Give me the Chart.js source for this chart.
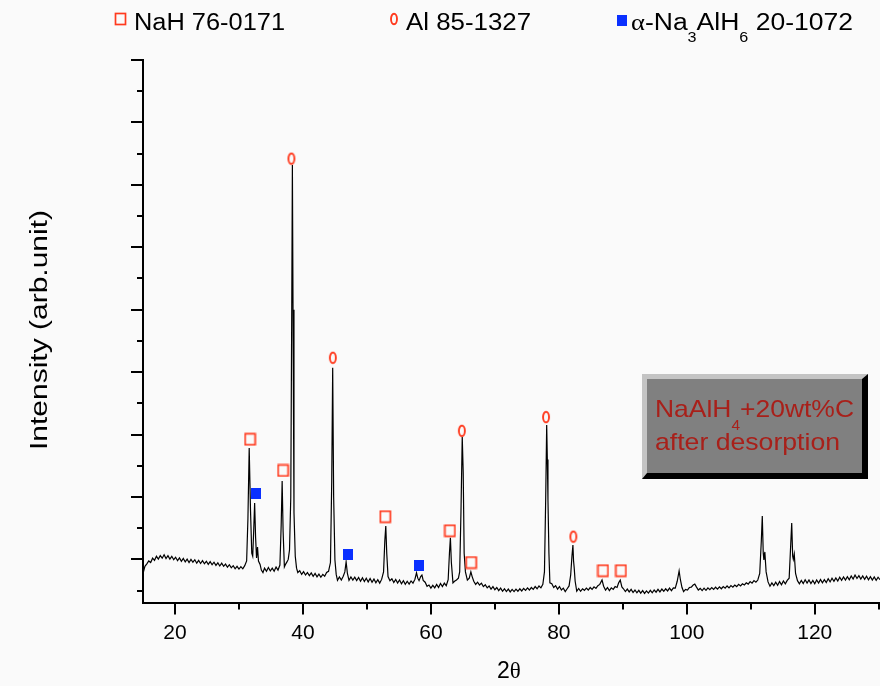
<!DOCTYPE html>
<html><head><meta charset="utf-8">
<script src="https://cdn.jsdelivr.net/npm/chart.js@4.4.1/dist/chart.umd.min.js"></script>
<style>html,body{margin:0;padding:0;background:#fafafa;}canvas{display:block;}</style>
</head><body>
<canvas id="c" width="880" height="686"></canvas>
<script>
// XRD scan: [2theta, intensity (arb. unit)]
const xrdScan = [
[15.0,55],[15.3,78],[15.6,86],[15.9,95],[16.2,90],[16.5,104],[16.8,97],[17.1,110],[17.4,101],[17.7,112],
[18.0,104],[18.3,115],[18.6,103],[18.9,112],[19.2,101],[19.5,110],[19.8,99],[20.1,107],[20.4,96],[20.7,105],
[21.0,94],[21.3,103],[21.6,92],[21.9,101],[22.2,90],[22.5,100],[22.8,91],[23.1,99],[23.4,88],[23.7,97],
[24.0,87],[24.3,96],[24.6,86],[24.9,94],[25.2,84],[25.5,93],[25.8,83],[26.1,91],[26.4,81],[26.7,89],
[27.0,79],[27.3,88],[27.6,78],[27.9,85],[28.2,75],[28.5,83],[28.8,73],[29.1,80],[29.4,70],[29.7,78],
[30.0,69],[30.3,77],[30.6,70],[30.9,80],[31.2,95],[31.4,230],[31.6,457],[31.8,260],[32.0,120],[32.15,110],
[32.3,190],[32.45,281],[32.6,170],[32.75,105],[32.9,140],[33.05,95],[33.3,84],[33.5,66],[33.75,58],[34.0,72],
[34.3,62],[34.6,74],[34.9,63],[35.2,72],[35.5,62],[35.8,76],[36.1,66],[36.4,82],[36.6,210],[36.75,351],
[36.9,190],[37.1,76],[37.3,85],[37.5,92],[37.7,100],[37.9,130],[38.1,300],[38.25,900],[38.35,1364],[38.45,900],
[38.6,250],[38.8,110],[39.0,72],[39.2,58],[39.5,64],[39.8,52],[40.1,61],[40.4,50],[40.7,58],[41.0,48],
[41.3,57],[41.6,46],[41.9,55],[42.2,44],[42.5,53],[42.8,43],[43.1,52],[43.4,46],[43.7,58],[44.0,62],
[44.3,90],[44.5,350],[44.65,714],[44.8,300],[45.0,98],[45.2,52],[45.4,33],[45.7,44],[46.0,34],[46.3,46],
[46.55,60],[46.75,92],[46.95,55],[47.2,33],[47.5,44],[47.8,34],[48.1,43],[48.4,32],[48.7,42],[49.0,30],
[49.3,41],[49.6,29],[49.9,40],[50.2,28],[50.5,39],[50.8,27],[51.1,37],[51.4,25],[51.7,35],[52.0,24],
[52.3,36],[52.6,60],[52.8,160],[52.95,207],[53.1,120],[53.3,45],[53.6,32],[53.9,38],[54.2,26],[54.5,36],
[54.8,24],[55.1,34],[55.4,22],[55.7,32],[56.0,20],[56.3,30],[56.6,21],[56.9,31],[57.2,24],[57.5,36],
[57.75,57],[57.95,40],[58.15,32],[58.4,45],[58.6,50],[58.8,33],[59.1,27],[59.4,14],[59.7,18],[60.0,8],
[60.3,17],[60.6,9],[60.9,20],[61.2,10],[61.5,23],[61.8,13],[62.1,24],[62.4,16],[62.7,35],[62.9,120],
[63.05,169],[63.2,90],[63.45,25],[63.7,30],[64.0,34],[64.3,40],[64.5,60],[64.7,250],[64.9,493],[65.05,380],
[65.2,120],[65.4,60],[65.7,34],[66.0,40],[66.25,60],[66.45,45],[66.7,30],[67.0,20],[67.3,27],[67.6,18],
[67.9,24],[68.2,13],[68.5,19],[68.8,9],[69.1,15],[69.4,5],[69.7,13],[70.0,3],[70.3,10],[70.6,0],
[70.9,8],[71.2,-2],[71.5,6],[71.8,-3],[72.1,5],[72.4,-4],[72.7,4],[73.0,-3],[73.3,5],[73.6,-2],
[73.9,6],[74.2,-1],[74.5,7],[74.8,1],[75.1,9],[75.4,2],[75.7,10],[76.0,4],[76.3,13],[76.6,6],
[76.9,15],[77.2,9],[77.5,20],[77.75,60],[77.95,300],[78.1,531],[78.2,420],[78.3,290],[78.45,120],[78.6,25],
[78.9,22],[79.2,10],[79.5,16],[79.8,5],[80.1,13],[80.4,2],[80.7,8],[81.0,-3],[81.3,6],[81.6,15],
[81.85,50],[82.05,110],[82.2,146],[82.3,95],[82.4,73],[82.55,30],[82.8,-2],[83.1,7],[83.4,-2],[83.7,6],
[84.0,1],[84.3,8],[84.6,2],[84.9,10],[85.2,4],[85.5,12],[85.8,7],[86.1,16],[86.4,20],[86.75,34],
[87.0,14],[87.3,2],[87.6,10],[87.9,0],[88.2,9],[88.5,4],[88.8,13],[89.1,10],[89.35,25],[89.6,34],
[89.85,12],[90.1,6],[90.4,-3],[90.7,5],[91.0,-4],[91.3,4],[91.6,-6],[91.9,2],[92.2,-7],[92.5,1],
[92.8,-8],[93.1,0],[93.4,-9],[93.7,-1],[94.0,-8],[94.3,1],[94.6,-7],[94.9,2],[95.2,-5],[95.5,4],
[95.8,-4],[96.1,5],[96.4,-2],[96.7,6],[97.0,-1],[97.3,8],[97.6,0],[97.9,9],[98.2,8],[98.5,30],
[98.8,63],[99.0,35],[99.25,10],[99.5,-3],[99.8,4],[100.1,2],[100.4,10],[100.7,11],[101.0,18],[101.25,21],
[101.5,12],[101.8,2],[102.1,7],[102.4,0],[102.7,8],[103.0,1],[103.3,9],[103.6,3],[103.9,10],[104.2,4],
[104.5,11],[104.8,5],[105.1,12],[105.4,6],[105.7,13],[106.0,8],[106.3,15],[106.6,9],[106.9,16],[107.2,11],
[107.5,18],[107.8,13],[108.1,20],[108.4,15],[108.7,22],[109.0,18],[109.3,25],[109.6,21],[109.9,29],[110.2,24],
[110.5,32],[110.8,27],[111.1,34],[111.4,55],[111.65,160],[111.8,239],[111.95,120],[112.05,98],[112.2,124],[112.4,60],
[112.7,28],[113.0,14],[113.3,25],[113.6,16],[113.9,27],[114.2,17],[114.5,29],[114.8,19],[115.1,31],[115.4,22],
[115.7,33],[116.0,40],[116.25,150],[116.4,217],[116.55,110],[116.65,100],[116.8,117],[117.0,55],[117.3,32],[117.6,22],
[117.9,33],[118.2,23],[118.5,35],[118.8,24],[119.1,34],[119.4,23],[119.7,33],[120.0,22],[120.3,34],[120.6,24],
[120.9,36],[121.2,25],[121.5,35],[121.8,26],[122.1,38],[122.4,28],[122.7,40],[123.0,30],[123.3,41],[123.6,31],
[123.9,43],[124.2,33],[124.5,44],[124.8,34],[125.1,45],[125.4,35],[125.7,47],[126.0,37],[126.3,50],[126.6,39],
[126.9,48],[127.2,37],[127.5,47],[127.8,36],[128.1,46],[128.4,35],[128.7,45],[129.0,34],[129.3,44],[129.6,33],
[129.9,43],[130.2,35],[130.4,42]
];
// phase markers (2theta, height of marker)
const nahTheta = [31.74, 36.9, 52.87, 62.97, 66.29, 86.9, 89.7];
const nahY     = [485, 385, 237, 192, 90, 64, 64];
const alTheta  = [38.2, 44.67, 64.84, 78.0, 82.27];
const alY      = [1384, 746, 512, 556, 173];
const na3Theta = [32.72, 46.98, 58.07];
const na3Y     = [310, 117, 79];
// axes
const xTickValues = [20,30,40,50,60,70,80,90,100,110,120,130];
const xTickLabels = ['20','','40','','60','','80','','100','','120',''];
const yTickValues = [0,100,200,300,400,500,600,700,800,900,1000,1100,1200,1300,1400,1500,1600,1700];
const legendLabels = ['NaH 76-0171','Al 85-1327','α-Na3AlH6 20-1072'];

const SANS = "'Liberation Sans', Arial, Helvetica, sans-serif";
const SERIF = "'Liberation Serif', 'Times New Roman', serif";
const RED = '#ff3a1e', BLUE = '#0a30ff', TXTRED = '#a8201a';

function makeMarker(w,h,draw){const c=document.createElement('canvas');c.width=w;c.height=h;draw(c.getContext('2d'),w,h);return c;}
const sqMarker = makeMarker(13,14,g=>{g.strokeStyle=RED;g.lineWidth=1.7;g.strokeRect(1.5,1.5,10,11);});
const ovalMarker = makeMarker(10,14,g=>{g.strokeStyle=RED;g.lineWidth=1.9;g.beginPath();g.ellipse(5,7,3,5.2,0,0,Math.PI*2);g.stroke();});
const blueMarker = makeMarker(10,11,g=>{g.fillStyle=BLUE;g.fillRect(0,0,10,11);});

function pts(xs,ys){return xs.map((x,i)=>({x:x,y:ys[i]}));}

function drawRuns(ctx, runs, x, y, targetW, color){
  ctx.save(); ctx.fillStyle=color; ctx.textBaseline='alphabetic'; ctx.textAlign='left';
  let w=0; runs.forEach(r=>{ctx.font=r.font; r.w=ctx.measureText(r.t).width; w+=r.w;});
  const s = targetW ? targetW/w : 1;
  ctx.translate(x,y); ctx.scale(s,1);
  let cx=0; runs.forEach(r=>{ctx.font=r.font; ctx.fillText(r.t,cx,r.dy||0); cx+=r.w;});
  ctx.restore();
}

const decor = {
  id:'decor',
  beforeDraw(chart){const c=chart.ctx;c.save();c.fillStyle='#fafafa';c.fillRect(0,0,chart.width,chart.height);c.restore();},
  afterDraw(chart){
    const ctx=chart.ctx, xs=chart.scales.x, ys=chart.scales.y, ca=chart.chartArea;
    ctx.save();
    ctx.strokeStyle='#000'; ctx.lineWidth=2;
    xTickValues.forEach(v=>{const p=Math.round(xs.getPixelForValue(v)); const len=(v%20===0)?12:7;
      ctx.beginPath(); ctx.moveTo(p,ca.bottom); ctx.lineTo(p,ca.bottom+len); ctx.stroke();});
    yTickValues.forEach(v=>{const p=Math.round(ys.getPixelForValue(v)); const len=((v/100)%2===1)?12:6;
      ctx.beginPath(); ctx.moveTo(ca.left,p); ctx.lineTo(ca.left-len,p); ctx.stroke();});
    ctx.restore();
    // legend
    ctx.drawImage(sqMarker,114,12);
    drawRuns(ctx,[{t:'NaH 76-0171',font:'23px '+SANS}],134,30,151,'#000');
    ctx.drawImage(ovalMarker,389,12);
    drawRuns(ctx,[{t:'Al 85-1327',font:'23px '+SANS}],406,30,125,'#000');
    ctx.drawImage(blueMarker,617,15);
    drawRuns(ctx,[{t:'α',font:'23px '+SERIF},{t:'-Na',font:'23px '+SANS},{t:'3',font:'14px '+SANS,dy:11.5},
      {t:'AlH',font:'23px '+SANS},{t:'6',font:'14px '+SANS,dy:11.5},{t:' 20-1072',font:'23px '+SANS}],631,30,222,'#000');
    // y title
    ctx.save(); ctx.translate(46.5,450); ctx.rotate(-Math.PI/2);
    drawRuns(ctx,[{t:'Intensity (arb.unit)',font:'23px '+SANS}],0,0,240,'#000');
    ctx.restore();
    // x title
    drawRuns(ctx,[{t:'2',font:'23px '+SANS},{t:'θ',font:'23px '+SERIF}],497,678,0,'#000');
    // annotation box
    ctx.save();
    ctx.fillStyle='#000'; ctx.fillRect(642,374,226,105);
    ctx.fillStyle='#c4c4c4'; ctx.beginPath(); ctx.moveTo(642,374); ctx.lineTo(868,374); ctx.lineTo(862,379);
    ctx.lineTo(647,379); ctx.lineTo(647,473); ctx.lineTo(642,479); ctx.closePath(); ctx.fill();
    ctx.fillStyle='#808080'; ctx.fillRect(647,379,215,94);
    ctx.restore();
    drawRuns(ctx,[{t:'NaAlH',font:'24px '+SANS},{t:'4',font:'14px '+SANS,dy:13},{t:'+20wt%C',font:'24px '+SANS}],655,417,199,TXTRED);
    drawRuns(ctx,[{t:'after desorption',font:'24px '+SANS}],655,450,185,TXTRED);
  }
};

new Chart(document.getElementById('c'),{
  type:'scatter',
  data:{datasets:[
    {label:legendLabels[0],data:pts(nahTheta,nahY),pointStyle:sqMarker,pointRadius:6,showLine:false,clip:false},
    {label:legendLabels[1],data:pts(alTheta,alY),pointStyle:ovalMarker,pointRadius:6,showLine:false,clip:false},
    {label:legendLabels[2],data:pts(na3Theta,na3Y),pointStyle:blueMarker,pointRadius:6,showLine:false,clip:false},
    {type:'line',label:'scan',data:xrdScan.map(p=>({x:p[0],y:p[1]})),borderColor:'#000',borderWidth:1.2,pointRadius:0,tension:0,fill:false}
  ]},
  options:{
    responsive:false, animation:false, devicePixelRatio:1,
    layout:{autoPadding:false,padding:{top:60,left:0,right:0,bottom:0}},
    plugins:{legend:{display:false},tooltip:{enabled:false}},
    scales:{
      x:{type:'linear',min:15,max:130.2,
        afterBuildTicks:s=>{s.ticks=xTickValues.map(v=>({value:v}));},
        afterFit:s=>{s.height=83.5;s.paddingRight=0;s.paddingLeft=0;},
        grid:{display:false,drawTicks:false},
        border:{display:true,color:'#000',width:2},
        ticks:{padding:18,color:'#000',font:{family:SANS,size:21},maxRotation:0,autoSkip:false,
          callback:(v)=>xTickLabels[xTickValues.indexOf(v)] ?? ''}},
      y:{type:'linear',min:-38,max:1700,
        afterFit:s=>{s.width=143;},
        grid:{display:false,drawTicks:false},
        border:{display:true,color:'#000',width:2},
        ticks:{display:false}}
    }
  },
  plugins:[decor]
});
</script>
</body></html>
